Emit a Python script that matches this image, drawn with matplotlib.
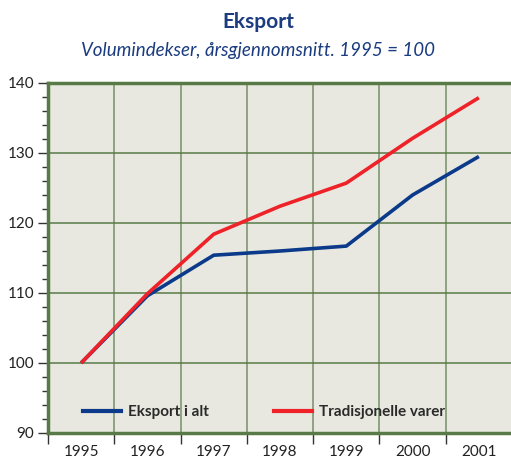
import matplotlib.pyplot as plt
from matplotlib.lines import Line2D

years = [1995, 1996, 1997, 1998, 1999, 2000, 2001]
eksport_i_alt = [100.0, 109.6, 115.4, 116.0, 116.7, 124.0, 129.5]
tradisjonelle = [100.0, 109.9, 118.4, 122.4, 125.7, 132.1, 137.9]

blue = '#0c3a8a'
red = '#ee2228'
green = '#587a47'
title_col = '#1b3c80'

plt.rcParams['font.family'] = ['Lato', 'DejaVu Sans']

fig = plt.figure(figsize=(5.11, 4.59), dpi=100)
ax = fig.add_axes([48 / 511, 26 / 459, 464 / 511, 350 / 459])
ax.set_facecolor('#e8e8e0')

ax.plot(years, eksport_i_alt, color=blue, lw=2.6, solid_capstyle='butt')
ax.plot(years, tradisjonelle, color=red, lw=2.6, solid_capstyle='butt')

ax.set_xlim(1994.5, 2001.5)
ax.set_ylim(90, 140)
ax.set_yticks(range(90, 141, 10))
ax.set_yticks(range(90, 141, 2), minor=True)
ax.set_xticks(years)
ax.set_xticks([y + 0.5 for y in years[:-1]] + [1994.5], minor=True)

ax.tick_params(axis='y', which='major', length=7, width=1, color='#333333',
               labelsize=11, pad=3, labelcolor='#222222')
ax.tick_params(axis='y', which='minor', length=4, width=1, color='#333333')
ax.tick_params(axis='x', which='major', length=0, labelsize=11, pad=9,
               labelcolor='#222222')
ax.tick_params(axis='x', which='minor', length=8, width=1, color='#333333')

ax.grid(True, axis='y', which='major', color=green, lw=1.1)
ax.grid(True, axis='x', which='minor', color=green, lw=1.1, alpha=0.8)
ax.set_axisbelow(True)

for s in ['left', 'top', 'bottom']:
    ax.spines[s].set_color(green)
    ax.spines[s].set_linewidth(2.5)
ax.spines['right'].set_visible(False)

handles = [Line2D([], [], color=blue, lw=3), Line2D([], [], color=red, lw=3)]
leg = ax.legend(handles, ['Eksport i alt', 'Tradisjonelle varer'], ncol=2,
                loc='lower left', bbox_to_anchor=(0.045, 0.0), frameon=False,
                handlelength=2.5, handletextpad=0.45, columnspacing=4.3,
                prop={'weight': 'bold', 'size': 11})
for t in leg.get_texts():
    t.set_color('#2a2a2a')

fig.text(0.505, 0.951, 'Eksport', ha='center', va='center', fontsize=15,
         fontweight='bold', color=title_col)
fig.text(0.505, 0.891, 'Volumindekser, årsgjennomsnitt. 1995 = 100',
         ha='center', va='center', fontsize=13.5, style='italic', color=title_col)

fig.savefig('out.png', dpi=100)
